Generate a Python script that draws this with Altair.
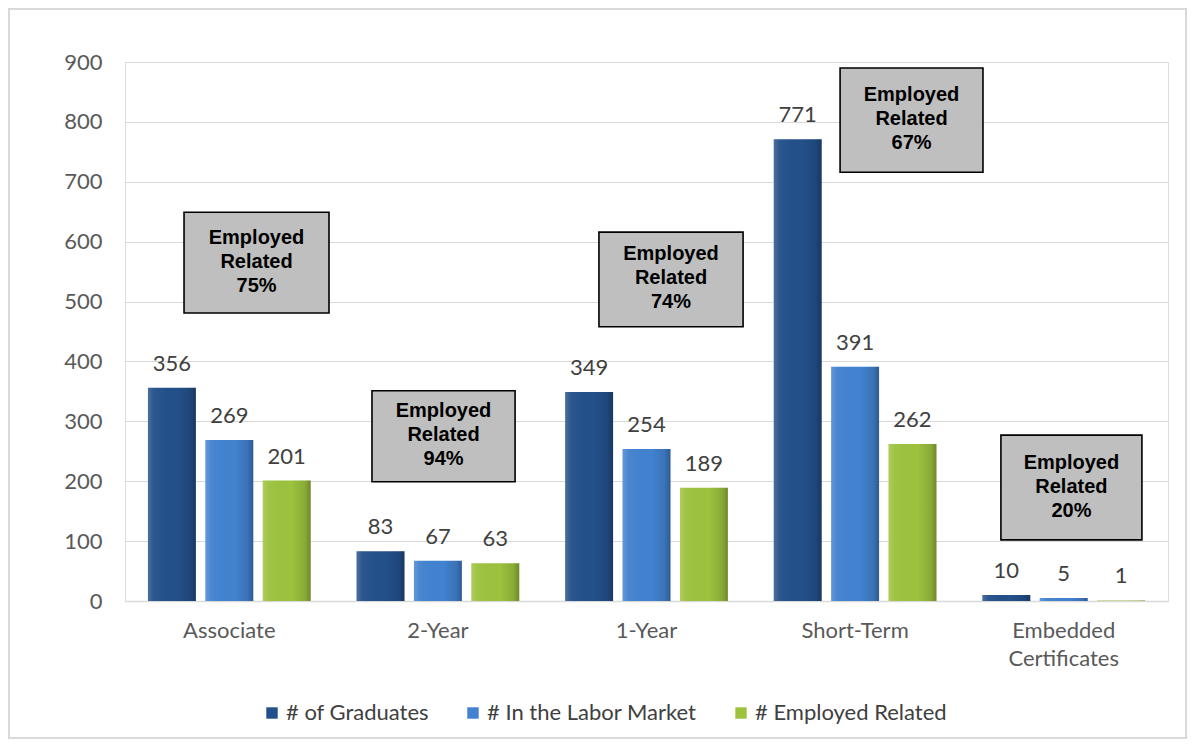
import altair as alt
import pandas as pd

categories = ["Associate", "2-Year", "1-Year", "Short-Term", "Embedded Certificates"]
series = ["# of Graduates", "# In the Labor Market", "# Employed Related"]
graduates = [356, 83, 349, 771, 10]
labor_market = [269, 67, 254, 391, 5]
employed_related = [201, 63, 189, 262, 1]
employed_pct = ["75%", "94%", "74%", "67%", "20%"]

# annotation box layout (x in category-index units, y in value units)
box_left = [0.283, 1.184, 2.272, 3.428, 4.199]
box_right = [0.978, 1.870, 2.963, 4.113, 4.875]
box_top = [649, 351, 616, 890, 277]
box_bottom = [481, 199, 458, 716, 102]

colors = ["#23508a", "#4282d0", "#9cc23e"]
FONT = "Lato"
FS = 22

rows = []
for i, c in enumerate(categories):
    for s, vals in zip(series, [graduates, labor_market, employed_related]):
        rows.append({"category": c, "series": s, "value": vals[i]})
df = pd.DataFrame(rows)

boxes = pd.DataFrame({
    "category": categories,
    "x1": box_left, "x2": box_right,
    "y1": box_bottom, "y2": box_top,
    "label": ["Employed\nRelated\n" + p for p in employed_pct],
})
boxes["xc"] = (boxes["x1"] + boxes["x2"]) / 2
boxes["yc"] = (boxes["y1"] + boxes["y2"]) / 2

yscale = alt.Scale(domain=[0, 900], nice=False)
xenc = alt.X("category:N", sort=categories,
             scale=alt.Scale(paddingInner=0.22, paddingOuter=0.11),
             axis=alt.Axis(title=None, labelAngle=0, labelFontSize=FS, labelFont=FONT,
                           labelColor="#595959", labelPadding=19, ticks=False,
                           domain=True, domainColor="#d9d9d9", domainWidth=1.5,
                           labelExpr="split(datum.value, ' ')", labelLineHeight=28))
xoff = alt.XOffset("series:N", sort=series,
                   scale=alt.Scale(paddingInner=0.165, paddingOuter=0))
yenc = alt.Y("value:Q", scale=yscale,
             axis=alt.Axis(title=None, values=list(range(0, 901, 100)), labelFontSize=FS,
                           labelFont=FONT, labelColor="#595959", labelPadding=23,
                           ticks=False, domain=False, gridColor="#d9d9d9", gridWidth=1.2))

base = alt.Chart(df)

bars = base.mark_bar().encode(
    x=xenc, xOffset=xoff, y=yenc,
    color=alt.Color("series:N", sort=series,
                    scale=alt.Scale(domain=series, range=colors),
                    legend=alt.Legend(title=None, orient="none", direction="horizontal",
                                      legendX=136, legendY=640, symbolType="square",
                                      symbolSize=130, symbolStrokeWidth=0,
                                      labelFontSize=FS, labelFont=FONT, labelLimit=0,
                                      labelColor="#404040", columnPadding=33,
                                      labelOffset=3, padding=0)),
)

shade = base.mark_bar(fill=alt.LinearGradient(
    gradient="linear", x1=0, x2=1, y1=0, y2=0,
    stops=[alt.GradientStop(color="rgba(255,255,255,0.18)", offset=0),
           alt.GradientStop(color="rgba(255,255,255,0.04)", offset=0.12),
           alt.GradientStop(color="rgba(0,0,0,0.0)", offset=0.6),
           alt.GradientStop(color="rgba(0,0,0,0.12)", offset=0.88),
           alt.GradientStop(color="rgba(0,0,0,0.3)", offset=1)])).encode(
    x=alt.X("category:N", sort=categories), xOffset=xoff, y=alt.Y("value:Q", scale=yscale),
)

labels = base.mark_text(baseline="bottom", dy=-12, fontSize=FS, font=FONT,
                        color="#404040").encode(
    x=alt.X("category:N", sort=categories), xOffset=xoff,
    y=alt.Y("value:Q", scale=yscale), text="value:Q",
)

bar_layer = alt.layer(bars, shade, labels)

bx = alt.Scale(domain=[0, 5], nice=False, zero=False)
box_rect = alt.Chart(boxes).mark_rect(fill="#bfbfbf", stroke="#000000", strokeWidth=1.6).encode(
    x=alt.X("x1:Q", scale=bx, axis=None), x2="x2:Q",
    y=alt.Y("y1:Q", scale=yscale), y2="y2:Q",
)
box_text = alt.Chart(boxes).mark_text(lineBreak="\n", fontWeight="bold", font="Liberation Sans",
                                      fontSize=20, lineHeight=24, baseline="middle", dy=-25,
                                      align="center", color="#000000").encode(
    x=alt.X("xc:Q", scale=bx, axis=None),
    y=alt.Y("yc:Q", scale=yscale), text="label:N",
)

frame = alt.Chart(boxes).mark_rect(filled=False, stroke="#d9d9d9", strokeWidth=1.5).encode(
    x=alt.value(-116), x2=alt.value(1061), y=alt.value(-53), y2=alt.value(676),
)

box_layer = alt.layer(box_rect, box_text, frame)

chart = alt.layer(bar_layer, box_layer).resolve_scale(x="independent").properties(
    width=1043, height=539,
    padding={"left": 117, "top": 54, "right": 19, "bottom": 138},
    autosize=alt.AutoSizeParams(type="none"),
).configure_view(stroke=None).configure(background="white")

chart.save("out.html", embed_options={"renderer": "svg", "actions": False})
